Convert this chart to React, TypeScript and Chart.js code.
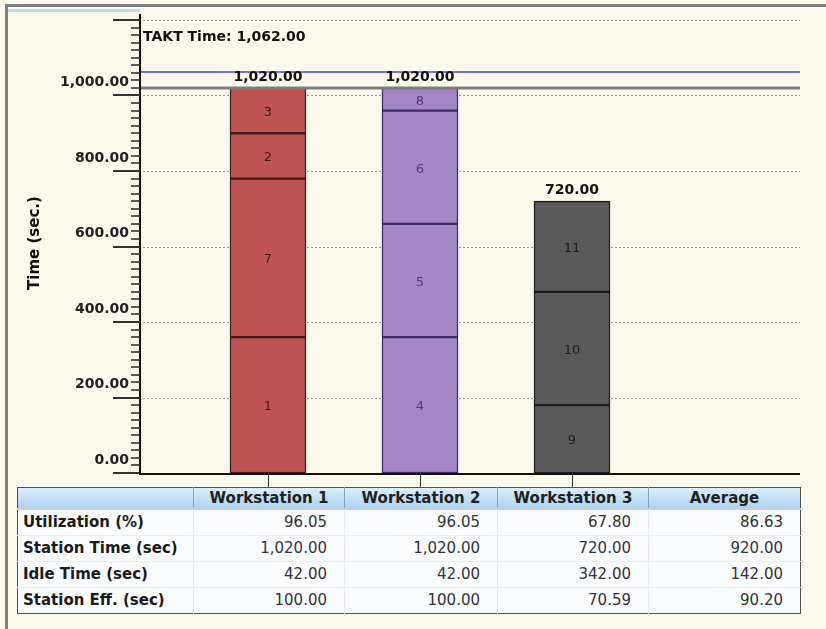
import React, { useEffect, useRef } from 'react';
import { Chart, registerables } from 'chart.js';

Chart.register(...registerables);

// ---- chart data ----
const stations = ['Workstation 1', 'Workstation 2', 'Workstation 3'];
const stationX = [1, 2, 3];
const ws1Tasks = ['1', '7', '2', '3'];
const ws1Times = [360, 420, 120, 120];
const ws2Tasks = ['4', '5', '6', '8'];
const ws2Times = [360, 300, 300, 60];
const ws3Tasks = ['9', '10', '11'];
const ws3Times = [180, 300, 240];
const taktTime = 1062;
const yMin = 0;
const yMax = 1200;
const yMajorStep = 200;
const yMinorStep = 20;
const yLabelMax = 1000;

// ---- table data ----
const tableColumns = ['Workstation 1', 'Workstation 2', 'Workstation 3', 'Average'];
const rowLabels = ['Utilization (%)', 'Station Time (sec)', 'Idle Time (sec)', 'Station Eff. (sec)'];
const utilization = [96.05, 96.05, 67.8, 86.63];
const stationTime = [1020, 1020, 720, 920];
const idleTime = [42, 42, 342, 142];
const stationEff = [100, 100, 70.59, 90.2];

const stationTasks = [ws1Tasks, ws2Tasks, ws3Tasks];
const stationTimes = [ws1Times, ws2Times, ws3Times];
const fillColors = ['#BF5452', '#A487C7', '#5A5A5A'];
const edgeColors = ['#3E1C1C', '#3A2A66', '#1E1E1E'];
const segTextColors = ['#3A1E1E', '#4A3A86', '#1A1A1A'];

const fmt = (v: number) =>
  v.toLocaleString('en-US', { minimumFractionDigits: 2, maximumFractionDigits: 2 });

const FONT = '"DejaVu Sans", Verdana, sans-serif';

export default function App() {
  const canvasRef = useRef<HTMLCanvasElement | null>(null);

  useEffect(() => {
    const canvas = canvasRef.current;
    if (!canvas) return;
    const layers = Math.max(...stationTimes.map((t) => t.length));
    const datasets = [] as any[];
    for (let i = 0; i < layers; i++) {
      datasets.push({
        label: 'Layer ' + (i + 1),
        data: stationX.map((x, j) => ({ x, y: stationTimes[j][i] ?? null })),
        taskLabels: stationTasks.map((t) => t[i] ?? null),
        backgroundColor: fillColors,
        borderColor: edgeColors,
        borderWidth: 1.5,
        borderSkipped: false,
        barThickness: 76,
      });
    }
    const totals = stationTimes.map((t) => t.reduce((a, b) => a + b, 0));
    const maxStation = Math.max(...totals);

    const overlay = {
      id: 'overlay',
      beforeDatasetsDraw(chart: any) {
        const { ctx, chartArea } = chart;
        const ys = chart.scales.y;
        ctx.save();
        ctx.strokeStyle = '#999999';
        ctx.lineWidth = 1;
        ctx.setLineDash([2, 2]);
        for (let v = yMajorStep; v <= yMax; v += yMajorStep) {
          const py = Math.round(ys.getPixelForValue(v)) + 0.5;
          ctx.beginPath();
          ctx.moveTo(chartArea.left + 3, py);
          ctx.lineTo(chartArea.right, py);
          ctx.stroke();
        }
        ctx.restore();
      },
      afterDatasetsDraw(chart: any) {
        const { ctx, chartArea } = chart;
        const ys = chart.scales.y;
        const xs = chart.scales.x;
        ctx.save();
        // max station time line
        const pm = ys.getPixelForValue(maxStation);
        ctx.strokeStyle = '#7E7E7E';
        ctx.lineWidth = 3;
        ctx.beginPath();
        ctx.moveTo(chartArea.left, pm);
        ctx.lineTo(chartArea.right, pm);
        ctx.stroke();
        // takt line
        const pt = ys.getPixelForValue(taktTime);
        ctx.strokeStyle = '#7474D4';
        ctx.lineWidth = 2;
        ctx.beginPath();
        ctx.moveTo(chartArea.left, pt);
        ctx.lineTo(chartArea.right, pt);
        ctx.stroke();

        // segment labels
        ctx.font = `13px ${FONT}`;
        ctx.textAlign = 'center';
        ctx.textBaseline = 'middle';
        chart.data.datasets.forEach((ds: any, d: number) => {
          const meta = chart.getDatasetMeta(d);
          meta.data.forEach((el: any, j: number) => {
            const lab = ds.taskLabels[j];
            if (lab == null || ds.data[j].y == null) return;
            ctx.fillStyle = segTextColors[j];
            ctx.fillText(lab, el.x, (el.y + el.base) / 2 + 2);
          });
        });

        // totals
        ctx.font = `bold 14px ${FONT}`;
        ctx.fillStyle = '#111';
        totals.forEach((t, j) => {
          const px = xs.getPixelForValue(stationX[j]);
          ctx.fillText(fmt(t), px, ys.getPixelForValue(t) - 11);
        });

        // takt label
        ctx.textAlign = 'left';
        ctx.fillText('TAKT Time: ' + fmt(taktTime), chartArea.left + 3, 37);

        // axes
        ctx.strokeStyle = '#111';
        ctx.lineWidth = 2;
        ctx.beginPath();
        ctx.moveTo(chartArea.left, chartArea.top - 6);
        ctx.lineTo(chartArea.left, chartArea.bottom + 1);
        ctx.lineTo(chartArea.right, chartArea.bottom + 1);
        ctx.stroke();

        // y ticks (major + minor)
        ctx.strokeStyle = '#333';
        for (let v = yMin; v <= yMax; v += yMinorStep) {
          const py = Math.round(ys.getPixelForValue(v));
          const major = v % yMajorStep === 0;
          ctx.lineWidth = major ? 2 : 1.6;
          ctx.beginPath();
          ctx.moveTo(chartArea.left - (major ? 27 : 9), py);
          ctx.lineTo(chartArea.left, py);
          ctx.stroke();
        }

        // x ticks down to the table
        ctx.lineWidth = 1;
        stationX.forEach((x) => {
          const px = Math.round(xs.getPixelForValue(x)) + 0.5;
          ctx.beginPath();
          ctx.moveTo(px, chartArea.bottom);
          ctx.lineTo(px, chartArea.bottom + 14);
          ctx.stroke();
        });

        // y title
        ctx.translate(35, 243);
        ctx.rotate(-Math.PI / 2);
        ctx.textAlign = 'center';
        ctx.textBaseline = 'middle';
        ctx.font = `bold 15px ${FONT}`;
        ctx.fillStyle = '#111';
        ctx.fillText('Time (sec.)', 0, 0);
        ctx.restore();
      },
    };

    const chart = new Chart(canvas, {
      type: 'bar',
      data: { datasets },
      plugins: [overlay],
      options: {
        responsive: false,
        animation: false,
        layout: { padding: { left: 0, right: 26, top: 20, bottom: 156 } },
        plugins: { legend: { display: false }, tooltip: { enabled: false } },
        scales: {
          x: { type: 'linear', display: false, stacked: true, offset: false, min: 0.158, max: 4.5 },
          y: {
            stacked: true,
            min: yMin,
            max: yMax,
            afterFit: (s: any) => {
              s.width = 140;
            },
            grid: { display: false, drawTicks: false },
            border: { display: false },
            ticks: {
              stepSize: yMajorStep,
              autoSkip: false,
              padding: 11,
              labelOffset: -13,
              color: '#222',
              font: { family: FONT, size: 14, weight: 'bold' },
              callback: (v: any) => (Number(v) <= yLabelMax ? fmt(Number(v)) : ''),
            },
          },
        },
      } as any,
    });
    return () => chart.destroy();
  }, []);

  const rows = [utilization, stationTime, idleTime, stationEff];
  const colWidths = [176, 151, 153, 151, 152];

  return (
    <div
      style={{
        position: 'fixed',
        left: 0,
        top: 0,
        width: 826,
        height: 629,
        background: '#FBF9EC',
        overflow: 'hidden',
        fontFamily: FONT,
      }}
    >
      <div style={{ position: 'absolute', left: 5, top: 4, width: 821, height: 3, background: '#7F7F7F' }} />
      <div style={{ position: 'absolute', left: 5, top: 4, width: 3, height: 625, background: '#7F7F7F' }} />
      <div style={{ position: 'absolute', left: 8, top: 9, width: 132, height: 3, background: '#BFDCEB' }} />
      <canvas ref={canvasRef} width={826} height={629} style={{ position: 'absolute', left: 0, top: 0 }} />
      <table
        style={{
          position: 'absolute',
          left: 17,
          top: 487,
          width: 783,
          borderCollapse: 'collapse',
          tableLayout: 'fixed',
          border: '1px solid #505050',
          fontSize: 15,
          background: '#FAFCFE',
        }}
      >
        <colgroup>
          {colWidths.map((w, i) => (
            <col key={i} style={{ width: w }} />
          ))}
        </colgroup>
        <thead>
          <tr style={{ height: 21, background: 'linear-gradient(#DCEEFA, #A7D0EF)' }}>
            <th style={{ padding: 0 }} />
            {tableColumns.map((c) => (
              <th
                key={c}
                style={{
                  padding: 0,
                  fontWeight: 'bold',
                  color: '#222',
                  textAlign: 'center',
                  borderLeft: '1px solid #7FA8CF',
                  whiteSpace: 'nowrap',
                  lineHeight: '20px',
                }}
              >
                {c}
              </th>
            ))}
          </tr>
        </thead>
        <tbody>
          {rows.map((r, i) => (
            <tr key={i} style={{ height: 26 }}>
              <td
                style={{
                  padding: '0 0 0 5px',
                  fontWeight: 'bold',
                  color: '#1A1A1A',
                  whiteSpace: 'nowrap',
                  borderTop: i === 0 ? '2px solid #C9CED4' : '1px solid #E8EEF4',
                  lineHeight: '24px',
                }}
              >
                {rowLabels[i]}
              </td>
              {r.map((v, j) => (
                <td
                  key={j}
                  style={{
                    padding: '0 17px 0 0',
                    textAlign: 'right',
                    color: '#333',
                    whiteSpace: 'nowrap',
                    borderLeft: '1px solid #E3EBF3',
                    borderTop: i === 0 ? '2px solid #C9CED4' : '1px solid #E8EEF4',
                    lineHeight: '24px',
                  }}
                >
                  {fmt(v)}
                </td>
              ))}
            </tr>
          ))}
        </tbody>
      </table>
    </div>
  );
}
